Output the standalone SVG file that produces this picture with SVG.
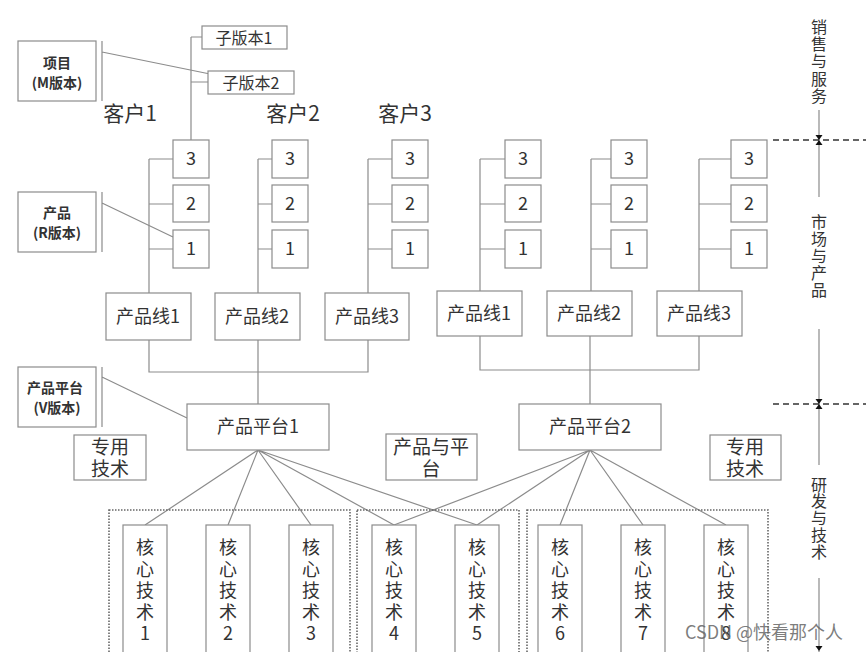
<svg xmlns="http://www.w3.org/2000/svg" width="866" height="652" viewBox="0 0 866 652">
<style>
text{font-family:"Noto Sans CJK SC","Noto Sans",sans-serif;fill:#333;text-anchor:middle}
.b{fill:#fff;stroke:#8c8c8c;stroke-width:1.2}
.l{stroke:#8c8c8c;stroke-width:1.2;fill:none}
.n{font-size:18px}
.lb{font-size:14px;font-weight:bold}
.ct{font-size:19px}
.cv{font-size:18px}
.dot{fill:none;stroke:#666;stroke-width:1.6;stroke-dasharray:1.5 1.5}
.dash{stroke:#333;stroke-width:1.5;stroke-dasharray:6 4}
.ax{font-size:16px}
</style>
<defs>
<path id="tri" d="M-3.5,-5 L3.5,-5 L0,0 Z" fill="#111"/>
</defs>
<rect width="866" height="652" fill="#fff"/>

<g id="connectors">
<path class="l" d="M102,41 V101 M102,52 L210,74"/>
<path class="l" d="M102,192 V252 M102,203 L173,237"/>
<path class="l" d="M102,367 V427 M102,377 L187,418"/>
<path class="l" d="M191,37 H202 M191,82 H208 M191,37 V140"/>
<path class="l" d="M149,159 V293 M149,159 H173 M149,204 H173 M149,249 H173"/>
<path class="l" d="M258,159 V293 M258,159 H272 M258,204 H272 M258,249 H272"/>
<path class="l" d="M368,159 V293 M368,159 H392 M368,204 H392 M368,249 H392"/>
<path class="l" d="M149,340 V372 H368 V340 M258,340 V404"/>
<path class="l" d="M480,159 V291 M480,159 H505 M480,204 H505 M480,249 H505"/>
<path class="l" d="M591,159 V291 M591,159 H611 M591,204 H611 M591,249 H611"/>
<path class="l" d="M699,159 V291 M699,159 H731 M699,204 H731 M699,249 H731"/>
<path class="l" d="M480,336 V370 H699 V336 M590,336 V404"/>
<path class="l" d="M258,450 L145,525 M258,450 L228,525 M258,450 L311,525 M258,450 L394,525 M258,450 L477,525"/>
<path class="l" d="M590,450 L394,525 M590,450 L477,525 M590,450 L560,525 M590,450 L643,525 M590,450 L726,525"/>
<path class="l" d="M819,110 V197 M819,329 V465 M819,578 V652"/>
<path class="dash" d="M773,140 H866 M773,404 H866"/>
<use href="#tri" x="819" y="140"/>
<use href="#tri" x="819" y="140" transform="rotate(180 819 140)"/>
<use href="#tri" x="819" y="404"/>
<use href="#tri" x="819" y="404" transform="rotate(180 819 404)"/>
<use href="#tri" x="819" y="651"/>
</g>

<g id="label-m"><rect class="b" x="18" y="41" width="78" height="60"/><text class="lb" x="57" y="68">项目</text><text class="lb" x="57" y="88">(M版本)</text></g>
<g id="label-r"><rect class="b" x="18" y="192" width="78" height="60"/><text class="lb" x="57" y="218">产品</text><text class="lb" x="57" y="238">(R版本)</text></g>
<g id="label-v"><rect class="b" x="18" y="367" width="78" height="60"/><text class="lb" x="55" y="393">产品平台</text><text class="lb" x="57" y="413">(V版本)</text></g>

<g id="sub1"><rect class="b" x="202" y="26" width="85" height="23"/><text x="244" y="44" font-size="16">子版本1</text></g>
<g id="sub2"><rect class="b" x="208" y="71" width="86" height="23"/><text x="251" y="89" font-size="16">子版本2</text></g>

<g id="cust1"><text x="130" y="121" font-size="21">客户1</text></g>
<g id="cust2"><text x="293" y="121" font-size="21">客户2</text></g>
<g id="cust3"><text x="405" y="121" font-size="21">客户3</text></g>

<g id="g1-3"><rect class="b" x="173" y="140" width="36" height="38"/><text class="n" x="191" y="165">3</text></g>
<g id="g1-2"><rect class="b" x="173" y="185" width="36" height="37"/><text class="n" x="191" y="210">2</text></g>
<g id="g1-1"><rect class="b" x="173" y="230" width="36" height="38"/><text class="n" x="191" y="255">1</text></g>
<g id="g2-3"><rect class="b" x="272" y="140" width="36" height="38"/><text class="n" x="290" y="165">3</text></g>
<g id="g2-2"><rect class="b" x="272" y="185" width="36" height="37"/><text class="n" x="290" y="210">2</text></g>
<g id="g2-1"><rect class="b" x="272" y="230" width="36" height="38"/><text class="n" x="290" y="255">1</text></g>
<g id="g3-3"><rect class="b" x="392" y="140" width="36" height="38"/><text class="n" x="410" y="165">3</text></g>
<g id="g3-2"><rect class="b" x="392" y="185" width="36" height="37"/><text class="n" x="410" y="210">2</text></g>
<g id="g3-1"><rect class="b" x="392" y="230" width="36" height="38"/><text class="n" x="410" y="255">1</text></g>
<g id="g4-3"><rect class="b" x="505" y="140" width="36" height="38"/><text class="n" x="523" y="165">3</text></g>
<g id="g4-2"><rect class="b" x="505" y="185" width="36" height="37"/><text class="n" x="523" y="210">2</text></g>
<g id="g4-1"><rect class="b" x="505" y="230" width="36" height="38"/><text class="n" x="523" y="255">1</text></g>
<g id="g5-3"><rect class="b" x="611" y="140" width="36" height="38"/><text class="n" x="629" y="165">3</text></g>
<g id="g5-2"><rect class="b" x="611" y="185" width="36" height="37"/><text class="n" x="629" y="210">2</text></g>
<g id="g5-1"><rect class="b" x="611" y="230" width="36" height="38"/><text class="n" x="629" y="255">1</text></g>
<g id="g6-3"><rect class="b" x="731" y="140" width="36" height="38"/><text class="n" x="749" y="165">3</text></g>
<g id="g6-2"><rect class="b" x="731" y="185" width="36" height="37"/><text class="n" x="749" y="210">2</text></g>
<g id="g6-1"><rect class="b" x="731" y="230" width="36" height="38"/><text class="n" x="749" y="255">1</text></g>

<g id="pl1a"><rect class="b" x="106" y="293" width="85" height="47"/><text class="n" x="148" y="323">产品线1</text></g>
<g id="pl2a"><rect class="b" x="215" y="293" width="85" height="47"/><text class="n" x="257" y="323">产品线2</text></g>
<g id="pl3a"><rect class="b" x="325" y="293" width="84" height="47"/><text class="n" x="367" y="323">产品线3</text></g>
<g id="pl1b"><rect class="b" x="437" y="291" width="85" height="45"/><text class="n" x="479" y="320">产品线1</text></g>
<g id="pl2b"><rect class="b" x="547" y="291" width="85" height="45"/><text class="n" x="589" y="320">产品线2</text></g>
<g id="pl3b"><rect class="b" x="657" y="291" width="85" height="45"/><text class="n" x="699" y="320">产品线3</text></g>

<g id="plat1"><rect class="b" x="187" y="404" width="142" height="46"/><text class="n" x="258" y="433">产品平台1</text></g>
<g id="plat2"><rect class="b" x="519" y="404" width="142" height="46"/><text class="n" x="590" y="433">产品平台2</text></g>

<g id="spec1"><rect class="b" x="74" y="435" width="72" height="45"/><text class="ct" x="110" y="454">专用</text><text class="ct" x="110" y="476">技术</text></g>
<g id="prodplat"><rect class="b" x="386" y="434" width="91" height="46"/><text class="ct" x="431" y="454">产品与平</text><text class="ct" x="431" y="476">台</text></g>
<g id="spec2"><rect class="b" x="710" y="435" width="71" height="45"/><text class="ct" x="745" y="454">专用</text><text class="ct" x="745" y="476">技术</text></g>

<g id="groups">
<rect class="dot" x="109" y="510" width="241" height="160"/>
<rect class="dot" x="357" y="510" width="162" height="160"/>
<rect class="dot" x="527" y="510" width="241" height="160"/>
</g>

<g id="ct1"><rect class="b" x="123" y="525" width="44" height="140"/><text class="cv"><tspan x="145" y="554">核</tspan><tspan x="145" y="576">心</tspan><tspan x="145" y="597">技</tspan><tspan x="145" y="619">术</tspan><tspan x="145" y="640">1</tspan></text></g>
<g id="ct2"><rect class="b" x="206" y="525" width="44" height="140"/><text class="cv"><tspan x="228" y="554">核</tspan><tspan x="228" y="576">心</tspan><tspan x="228" y="597">技</tspan><tspan x="228" y="619">术</tspan><tspan x="228" y="640">2</tspan></text></g>
<g id="ct3"><rect class="b" x="289" y="525" width="44" height="140"/><text class="cv"><tspan x="311" y="554">核</tspan><tspan x="311" y="576">心</tspan><tspan x="311" y="597">技</tspan><tspan x="311" y="619">术</tspan><tspan x="311" y="640">3</tspan></text></g>
<g id="ct4"><rect class="b" x="372" y="525" width="44" height="140"/><text class="cv"><tspan x="394" y="554">核</tspan><tspan x="394" y="576">心</tspan><tspan x="394" y="597">技</tspan><tspan x="394" y="619">术</tspan><tspan x="394" y="640">4</tspan></text></g>
<g id="ct5"><rect class="b" x="455" y="525" width="44" height="140"/><text class="cv"><tspan x="477" y="554">核</tspan><tspan x="477" y="576">心</tspan><tspan x="477" y="597">技</tspan><tspan x="477" y="619">术</tspan><tspan x="477" y="640">5</tspan></text></g>
<g id="ct6"><rect class="b" x="538" y="525" width="44" height="140"/><text class="cv"><tspan x="560" y="554">核</tspan><tspan x="560" y="576">心</tspan><tspan x="560" y="597">技</tspan><tspan x="560" y="619">术</tspan><tspan x="560" y="640">6</tspan></text></g>
<g id="ct7"><rect class="b" x="621" y="525" width="44" height="140"/><text class="cv"><tspan x="643" y="554">核</tspan><tspan x="643" y="576">心</tspan><tspan x="643" y="597">技</tspan><tspan x="643" y="619">术</tspan><tspan x="643" y="640">7</tspan></text></g>
<g id="ct8"><rect class="b" x="704" y="525" width="44" height="140"/><text class="cv"><tspan x="726" y="554">核</tspan><tspan x="726" y="576">心</tspan><tspan x="726" y="597">技</tspan><tspan x="726" y="619">术</tspan><tspan x="726" y="640">8</tspan></text></g>

<g id="axis-labels">
<text class="ax"><tspan x="819" y="33">销</tspan><tspan x="819" y="50">售</tspan><tspan x="819" y="67">与</tspan><tspan x="819" y="85">服</tspan><tspan x="819" y="102">务</tspan></text>
<text class="ax"><tspan x="819" y="228">市</tspan><tspan x="819" y="245">场</tspan><tspan x="819" y="262">与</tspan><tspan x="819" y="279">产</tspan><tspan x="819" y="296">品</tspan></text>
<text class="ax"><tspan x="819" y="491">研</tspan><tspan x="819" y="507">发</tspan><tspan x="819" y="524">与</tspan><tspan x="819" y="541">技</tspan><tspan x="819" y="558">术</tspan></text>
</g>

<g id="watermark"><text x="764" y="639" font-size="18" style="fill:#666;fill-opacity:0.85">CSDN @快看那个人</text></g>
</svg>
